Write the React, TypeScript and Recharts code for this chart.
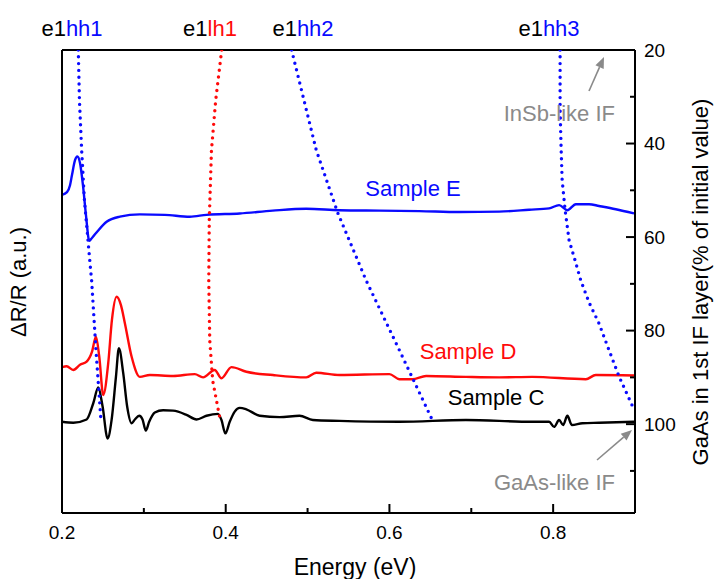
import { LineChart, Line, XAxis, YAxis, ReferenceLine } from "recharts"

// spectra: energy (eV) and dR/R (a.u., offset per sample)
const sampleCEnergy = [0.2, 0.2138, 0.2301, 0.2382, 0.2443, 0.2496, 0.2557, 0.2606, 0.2659, 0.2695, 0.2748, 0.2796, 0.285, 0.289, 0.2943, 0.2984, 0.3024, 0.3065, 0.3134, 0.3235, 0.3357, 0.3521, 0.3643, 0.3765, 0.3906, 0.3948, 0.3996, 0.4049, 0.411, 0.4171, 0.4252, 0.4415, 0.4659, 0.4902, 0.5065, 0.539, 0.6122, 0.6935, 0.7744, 0.7951, 0.8012, 0.8073, 0.8122, 0.8174, 0.8228, 0.8357, 0.8561, 0.8988]
const sampleCValue = [1.97, 1.95, 2.02, 2.37, 2.71, 2.3, 1.61, 2.01, 2.94, 3.56, 3.02, 2.3, 1.94, 2.02, 2.1, 2.02, 1.78, 1.97, 2.17, 2.22, 2.21, 2.12, 2.02, 2.1, 2.14, 2.01, 1.72, 1.97, 2.19, 2.27, 2.24, 2.1, 2.07, 2.1, 2.01, 1.99, 1.97, 2.01, 1.97, 1.97, 1.86, 2.01, 1.9, 2.1, 1.9, 1.94, 1.95, 1.97]

const sampleDEnergy = [0.2, 0.2057, 0.2138, 0.222, 0.2301, 0.2366, 0.2415, 0.2455, 0.2504, 0.2565, 0.261, 0.2667, 0.272, 0.2768, 0.285, 0.2951, 0.3073, 0.3357, 0.3622, 0.3723, 0.3866, 0.3948, 0.407, 0.4252, 0.4577, 0.4984, 0.5106, 0.539, 0.6, 0.6122, 0.628, 0.6448, 0.6935, 0.7341, 0.7744, 0.8399, 0.8521, 0.8988]
const sampleDValue = [3.15, 3.17, 3.09, 3.2, 3.27, 3.48, 3.81, 3.38, 2.55, 3.24, 4.17, 4.67, 4.49, 4.1, 3.38, 2.94, 2.98, 2.96, 3.0, 2.93, 3.09, 2.91, 3.15, 3.05, 2.98, 2.93, 3.03, 2.98, 3.0, 2.89, 2.89, 2.96, 2.94, 2.93, 2.94, 2.89, 2.98, 2.97]

const sampleEEnergy = [0.2, 0.2061, 0.2098, 0.2122, 0.2159, 0.2187, 0.222, 0.2256, 0.2293, 0.2333, 0.2366, 0.2427, 0.2545, 0.2707, 0.2951, 0.3256, 0.3561, 0.3765, 0.4171, 0.4573, 0.4984, 0.539, 0.5878, 0.6366, 0.6854, 0.7341, 0.7707, 0.7951, 0.8073, 0.8174, 0.8277, 0.8439, 0.8561, 0.8765, 0.8988]
const sampleEValue = [6.87, 6.93, 7.08, 7.3, 7.62, 7.7, 7.56, 7.08, 6.43, 5.88, 5.94, 6.07, 6.29, 6.4, 6.45, 6.44, 6.4, 6.44, 6.47, 6.53, 6.57, 6.54, 6.53, 6.52, 6.5, 6.51, 6.55, 6.58, 6.65, 6.54, 6.67, 6.67, 6.63, 6.56, 6.47]

// transition energies vs GaAs content of the 1st IF layer (%)
const e1hh1Energy = [0.2199, 0.2213, 0.224, 0.2274, 0.235, 0.2362, 0.2415, 0.2476]
const e1hh1Gaas = [20, 30.7, 41.4, 52.1, 67.1, 69.3, 84.2, 99.2]

const e1lh1Energy = [0.3951, 0.3878, 0.3826, 0.3799, 0.3793, 0.3805, 0.3841, 0.3927]
const e1lh1Gaas = [20, 30.7, 41.4, 56.4, 69.3, 82.1, 90.7, 98.6]

const e1hh2Energy = [0.4805, 0.5106, 0.5366, 0.5716, 0.6122, 0.6537]
const e1hh2Gaas = [20, 41.4, 54.7, 69.3, 84.2, 99.6]

const e1hh3Energy = [0.8085, 0.8085, 0.8098, 0.811, 0.8146, 0.8195, 0.8268, 0.8338, 0.8439, 0.8561, 0.8683, 0.8805, 0.8976]
const e1hh3Gaas = [20, 32.8, 41.4, 47.8, 54.2, 60.7, 65.0, 69.3, 74.0, 78.5, 84.2, 89.8, 96.4]

const xTicks = [0.2, 0.3, 0.4, 0.5, 0.6, 0.7, 0.8]
const gaasTicks = [20, 30, 40, 50, 60, 70, 80, 90, 100, 110]

const zip = (xs, ys) => xs.map((e, i) => ({ e, v: ys[i] }))

const BLUE = "#0a0aff"
const RED = "#ff0a0a"
const GREY = "#8a8a8a"
const FONT = "'Liberation Sans', Arial, sans-serif"

const XTick = ({ x, y, payload }) => {
  const major = Math.round(payload.value * 10) % 2 === 0
  return (
    <g>
      <line x1={x} x2={x} y1={y} y2={y - (major ? 9 : 5)} stroke="#000" strokeWidth={2} />
      {major && (
        <text x={x} y={y + 19} textAnchor="middle" dominantBaseline="central" fontSize={19} fontFamily={FONT} fill="#000">
          {payload.value.toFixed(1)}
        </text>
      )}
    </g>
  )
}

const RightTick = ({ x, y, payload }) => {
  const major = payload.value % 20 === 0
  return (
    <g>
      <line x1={x} x2={x - (major ? 9 : 5)} y1={y} y2={y} stroke="#000" strokeWidth={2} />
      {major && (
        <text x={x + 9} y={y} textAnchor="start" dominantBaseline="central" fontSize={19} fontFamily={FONT} fill="#000">
          {payload.value}
        </text>
      )}
    </g>
  )
}

const Arrow = ({ x1, y1, x2, y2 }) => {
  const a = Math.atan2(y2 - y1, x2 - x1)
  const len = 11
  const w = 4.5
  const bx = x2 - len * Math.cos(a)
  const by = y2 - len * Math.sin(a)
  const px = -Math.sin(a) * w
  const py = Math.cos(a) * w
  return (
    <g>
      <line x1={x1} y1={y1} x2={bx} y2={by} stroke={GREY} strokeWidth={1.6} />
      <polygon points={`${x2},${y2} ${bx + px},${by + py} ${bx - px},${by - py}`} fill={GREY} />
    </g>
  )
}

const TopLabel = ({ x, part, color }) => (
  <text x={x} y={28} textAnchor="middle" dominantBaseline="central" fontSize={22} fontFamily={FONT}>
    <tspan fill="#000">e1</tspan>
    <tspan fill={color}>{part}</tspan>
  </text>
)

const dotted = { strokeWidth: 3.4, strokeDasharray: "0 6.8", strokeLinecap: "round" as const }

export default function App() {
  return (
    <div style={{ position: "absolute", left: 0, top: 0, width: 714, height: 579, background: "#fff" }}>
      <LineChart width={714} height={579} margin={{ top: 50, right: 0, bottom: 0, left: 0 }}>
        <XAxis
          dataKey="e"
          type="number"
          domain={[0.2, 0.9]}
          ticks={xTicks}
          allowDataOverflow
          height={66}
          axisLine={{ stroke: "#000", strokeWidth: 2 }}
          tickLine={false}
          tickSize={0}
          tickMargin={0}
          tick={<XTick />}
        />
        <YAxis
          yAxisId="left"
          type="number"
          domain={[0, 10]}
          allowDataOverflow
          width={62}
          tick={false}
          tickLine={false}
          axisLine={{ stroke: "#000", strokeWidth: 2 }}
        />
        <YAxis
          yAxisId="right"
          orientation="right"
          type="number"
          domain={[20, 119]}
          reversed
          allowDataOverflow
          ticks={gaasTicks}
          width={79}
          tickLine={false}
          tickSize={0}
          tickMargin={0}
          tick={<RightTick />}
          axisLine={{ stroke: "#000", strokeWidth: 2 }}
        />
        <ReferenceLine yAxisId="right" y={20} stroke="#000" strokeWidth={2} />

        <Line yAxisId="left" data={zip(sampleEEnergy, sampleEValue)} dataKey="v" type="monotone" stroke={BLUE} strokeWidth={2.4} dot={false} activeDot={false} isAnimationActive={false} />
        <Line yAxisId="left" data={zip(sampleDEnergy, sampleDValue)} dataKey="v" type="monotone" stroke={RED} strokeWidth={2.4} dot={false} activeDot={false} isAnimationActive={false} />
        <Line yAxisId="left" data={zip(sampleCEnergy, sampleCValue)} dataKey="v" type="monotone" stroke="#000" strokeWidth={2.4} dot={false} activeDot={false} isAnimationActive={false} />

        <Line yAxisId="right" data={zip(e1hh1Energy, e1hh1Gaas)} dataKey="v" type="linear" stroke={BLUE} {...dotted} dot={false} activeDot={false} isAnimationActive={false} />
        <Line yAxisId="right" data={zip(e1lh1Energy, e1lh1Gaas)} dataKey="v" type="linear" stroke={RED} {...dotted} dot={false} activeDot={false} isAnimationActive={false} />
        <Line yAxisId="right" data={zip(e1hh2Energy, e1hh2Gaas)} dataKey="v" type="linear" stroke={BLUE} {...dotted} dot={false} activeDot={false} isAnimationActive={false} />
        <Line yAxisId="right" data={zip(e1hh3Energy, e1hh3Gaas)} dataKey="v" type="linear" stroke={BLUE} {...dotted} dot={false} activeDot={false} isAnimationActive={false} />
      </LineChart>

      <svg width={714} height={579} style={{ position: "absolute", left: 0, top: 0, pointerEvents: "none" }}>
        <TopLabel x={72} part="hh1" color={BLUE} />
        <TopLabel x={210} part="lh1" color={RED} />
        <TopLabel x={303} part="hh2" color={BLUE} />
        <TopLabel x={549} part="hh3" color={BLUE} />

        <text x={413} y={188} textAnchor="middle" dominantBaseline="central" fontSize={22} fontFamily={FONT} fill={BLUE}>Sample E</text>
        <text x={468} y={351} textAnchor="middle" dominantBaseline="central" fontSize={22} fontFamily={FONT} fill={RED}>Sample D</text>
        <text x={496} y={397} textAnchor="middle" dominantBaseline="central" fontSize={22} fontFamily={FONT} fill="#000">Sample C</text>

        <text x={615} y={113} textAnchor="end" dominantBaseline="central" fontSize={22} fontFamily={FONT} fill={GREY}>InSb-like IF</text>
        <text x={615} y={482} textAnchor="end" dominantBaseline="central" fontSize={22} fontFamily={FONT} fill={GREY}>GaAs-like IF</text>
        <Arrow x1={589} y1={91} x2={604} y2={57} />
        <Arrow x1={597} y1={460} x2={632} y2={430} />

        <text x={355} y={567} textAnchor="middle" dominantBaseline="central" fontSize={23} fontFamily={FONT} fill="#000">Energy (eV)</text>
        <text transform="translate(18,282) rotate(-90)" textAnchor="middle" dominantBaseline="central" fontSize={22} fontFamily={FONT} fill="#000">ΔR/R (a.u.)</text>
        <text transform="translate(700,282) rotate(-90)" textAnchor="middle" dominantBaseline="central" fontSize={22} fontFamily={FONT} fill="#000">GaAs in 1st IF layer(% of initial value)</text>
      </svg>
    </div>
  )
}
